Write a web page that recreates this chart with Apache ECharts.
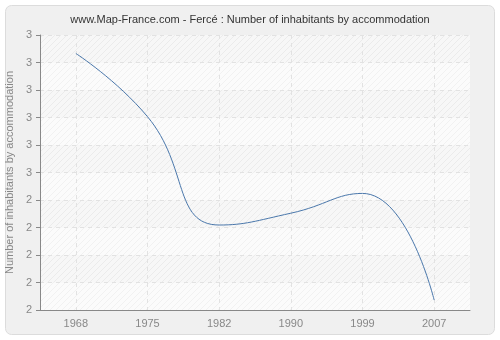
<!DOCTYPE html>
<html>
<head>
<meta charset="utf-8">
<script src="https://cdn.jsdelivr.net/npm/echarts@6/dist/echarts.min.js"></script>
<style>
html,body{margin:0;padding:0;background:#ffffff;}
#chart{width:500px;height:340px;}
</style>
</head>
<body>
<div id="chart"></div>
<script>
var years = ['1968', '1975', '1982', '1990', '1999', '2007'];
var values = [2.933, 2.703, 2.309, 2.352, 2.424, 2.036];
var yMin = 2, yMax = 3, yStep = 0.1;

function makePattern(bg, line) {
  var c = document.createElement('canvas');
  c.width = 6; c.height = 6;
  var g = c.getContext('2d');
  g.fillStyle = bg; g.fillRect(0, 0, 6, 6);
  g.strokeStyle = line; g.lineWidth = 1;
  g.beginPath();
  g.moveTo(0, 6); g.lineTo(6, 0);
  g.moveTo(-3, 3); g.lineTo(3, -3);
  g.moveTo(3, 9); g.lineTo(9, 3);
  g.stroke();
  return { image: c, repeat: 'repeat' };
}

var chart = echarts.init(document.getElementById('chart'));
var font = 'Liberation Sans, Arial, sans-serif';
chart.setOption({
  animation: false,
  textStyle: { fontFamily: font },
  graphic: [{
    type: 'rect', z: -10, silent: true,
    shape: { x: 5.5, y: 5.5, width: 489, height: 329, r: 6 },
    style: { fill: '#f0f0f0', stroke: '#dcdcdc', lineWidth: 1 }
  }],
  title: {
    text: 'www.Map-France.com - Fercé : Number of inhabitants by accommodation',
    left: 'center', top: 9,
    textStyle: { fontSize: 11, fontWeight: 'normal', color: '#333', fontFamily: font }
  },
  grid: { left: 40, right: 30, top: 35, bottom: 30, outerBoundsMode: 'none', containLabel: false, show: true, backgroundColor: '#fafafa', borderWidth: 0 },
  xAxis: {
    type: 'category', data: years, boundaryGap: true,
    axisLine: { lineStyle: { color: '#888' } },
    axisTick: { alignWithLabel: true, length: 4, lineStyle: { color: '#888' } },
    axisLabel: { color: '#888', fontSize: 11, margin: 8, fontFamily: font },
    splitLine: { show: true, alignWithLabel: true, lineStyle: { color: '#e2e2e2', type: [4, 4] } }
  },
  yAxis: {
    type: 'value', min: yMin, max: yMax, interval: yStep,
    name: 'Number of inhabitants by accommodation', nameLocation: 'middle', nameGap: 21,
    nameTextStyle: { color: '#888', fontSize: 11, fontFamily: font },
    axisLine: { show: true, lineStyle: { color: '#888' } },
    axisTick: { show: true, length: 4, lineStyle: { color: '#888' } },
    axisLabel: { color: '#888', fontSize: 11, margin: 8, fontFamily: font, formatter: function (v) { return Math.round(v); } },
    splitLine: { show: true, lineStyle: { color: '#e2e2e2', type: [4, 4] } },
    splitArea: { show: true, areaStyle: { color: [makePattern('#fbfbfb', '#f1f1f1'), makePattern('#f7f7f7', '#ebebeb')] } }
  },
  series: [{
    type: 'line', data: values, smooth: 0.5, showSymbol: false, symbol: 'none',
    lineStyle: { color: '#4a77ab', width: 1 }
  }]
});
</script>
</body>
</html>
